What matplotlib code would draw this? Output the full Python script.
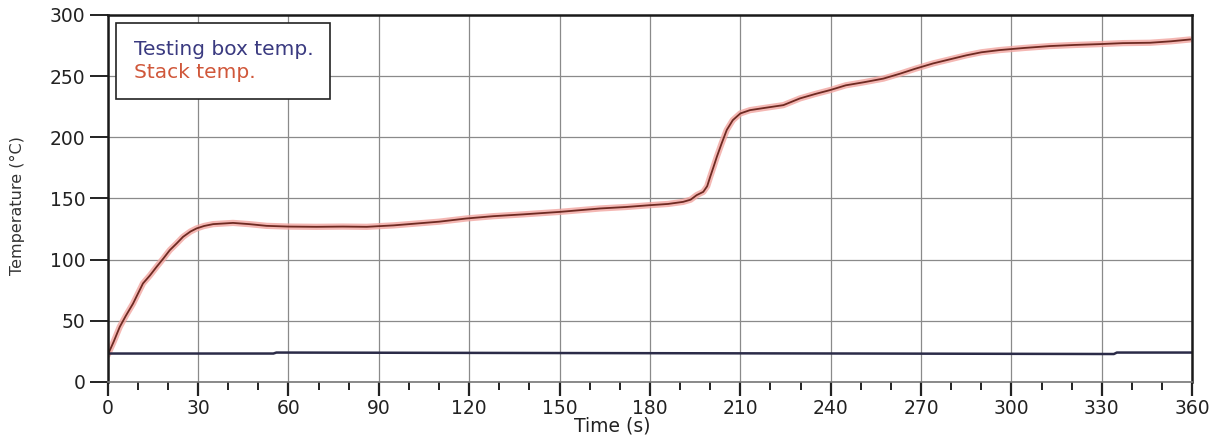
import matplotlib.pyplot as plt

# readings (s, deg C)
stack_t = [0, 2, 4, 6, 8.4, 10, 11.7, 14, 16.2, 18.5, 20.6, 23, 25, 27.5, 29.5, 32, 35,
           41.6, 47, 52.7, 60, 69.3, 78, 86, 95, 102.5, 110, 119, 128, 138, 150,
           163.4, 172, 180, 186, 191, 193.5, 195.5, 197.7, 199, 200, 201, 202.2, 203.8,
           205.5, 207.5, 210, 213.2, 218, 224.3, 229.8, 235, 239.8, 245, 251, 257.5,
           263, 268, 274, 280, 285, 290, 296, 304, 312.8, 321, 329.4, 337, 346, 353, 359.3]
stack_temp = [22, 33, 45, 54, 64, 72, 80.5, 87, 94, 101, 107.7, 113.5, 118.6, 123, 125.5, 127.5, 129,
              130, 129, 127.6, 127, 126.8, 127, 126.8, 128, 129.5, 131, 133.6, 135.5, 137, 139,
              141.8, 143, 144.5, 145.5, 147.2, 149, 152.7, 155.4, 160, 167.7, 175, 184, 195,
              206, 214, 219.5, 222.2, 224, 226.3, 231.8, 235.5, 238.6, 242.5, 245, 248,
              252, 256, 260.4, 264, 267, 269.5, 271.3, 273, 274.6, 275.5, 276.2, 277, 277.3, 278.5, 280]

box_t = [0, 55, 56, 150, 250, 334, 335, 360]
box_temp = [23.2, 23.2, 24, 23.6, 23.2, 22.8, 24, 24]

x_ticks = [0, 30, 60, 90, 120, 150, 180, 210, 240, 270, 300, 330, 360]
y_ticks = [0, 50, 100, 150, 200, 250, 300]

fig = plt.figure(figsize=(12.24, 4.41), dpi=100)
ax = fig.add_axes([0.088, 0.134, 0.886, 0.832])

ax.plot(stack_t, stack_temp, color="#f2a5a0", lw=4.5, alpha=0.8, solid_capstyle="round")
line_stack, = ax.plot(stack_t, stack_temp, color="#6e2a22", lw=1.3)
line_box, = ax.plot(box_t, box_temp, color="#2b2b48", lw=1.8)

ax.set_xlim(0, 360)
ax.set_ylim(0, 300)
ax.set_xticks(x_ticks)
ax.set_xticks(range(0, 361, 10), minor=True)
ax.set_yticks(y_ticks)
ax.grid(True, which="major", color="#8a8a8a", lw=0.9)

ax.tick_params(axis="x", which="major", direction="out", length=10, width=1.6,
               labelsize=13.5, colors="#222222", pad=2)
ax.tick_params(axis="x", which="minor", direction="out", length=6, width=1.4, color="#222222")
ax.tick_params(axis="y", which="major", direction="out", length=13, width=1.4,
               labelsize=13.5, colors="#222222", pad=3)

for side in ["left", "top", "right"]:
    ax.spines[side].set_color("#1a1a1a")
    ax.spines[side].set_linewidth(1.8)
ax.spines["bottom"].set_color("#777777")
ax.spines["bottom"].set_linewidth(1.2)

ax.set_xlabel("Time (s)", fontsize=13.5, color="#222222")
ax.xaxis.set_label_coords(0.465, -0.095)
ax.set_ylabel("Temperature (\u00b0C)", fontsize=11.5, color="#333333")
ax.yaxis.set_label_coords(-0.076, 0.48)

leg = ax.legend([line_box, line_stack], ["Testing box temp.", "Stack temp."],
                loc="upper left", bbox_to_anchor=(0.008, 0.978), fontsize=14.5,
                handlelength=0, handletextpad=0, fancybox=False, framealpha=1,
                edgecolor="#222222", borderpad=0.85, borderaxespad=0, labelspacing=0.2)
leg.get_frame().set_linewidth(1.2)
for h in leg.legend_handles:
    h.set_visible(False)
leg.get_texts()[0].set_color("#3a3a80")
leg.get_texts()[1].set_color("#d0573a")

fig.savefig("out.png", dpi=100)
